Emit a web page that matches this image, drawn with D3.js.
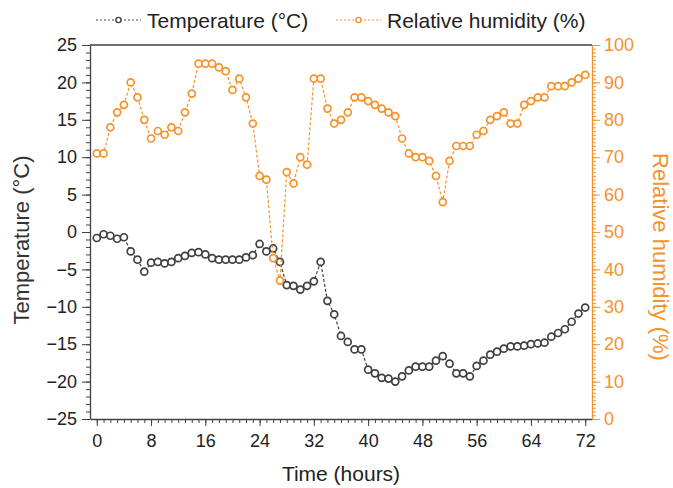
<!DOCTYPE html>
<html>
<head>
<meta charset="utf-8">
<script src="https://cdn.jsdelivr.net/npm/d3@7"></script>
<style>
  body { margin: 0; background: #fff; }
  text { font-family: "Liberation Sans", Arial, sans-serif; }
</style>
</head>
<body>
<div id="root"></div>
<script>
// hourly readings, 0..72 h
const hours = d3.range(0, 73);
const temperature = [
  -0.8, -0.3, -0.5, -0.9, -0.7, -2.6, -3.7, -5.3, -4.1, -4.0,
  -4.2, -4.0, -3.5, -3.2, -2.8, -2.7, -3.0, -3.5, -3.7, -3.7,
  -3.7, -3.7, -3.4, -3.1, -1.6, -2.6, -2.2, -4.0, -7.1, -7.2,
  -7.7, -7.2, -6.6, -4.0, -9.2, -11.0, -13.9, -14.7, -15.7, -15.7,
  -18.4, -18.9, -19.5, -19.6, -20.0, -19.3, -18.5, -18.0, -18.0, -18.0,
  -17.2, -16.6, -17.6, -18.9, -18.9, -19.3, -17.9, -17.2, -16.4, -16.0,
  -15.6, -15.3, -15.3, -15.2, -15.0, -14.9, -14.8, -14.0, -13.5, -13.0,
  -12.0, -10.9, -10.1
];
const humidity = [
  71, 71, 78, 82, 84, 90, 86, 80, 75, 77,
  76, 78, 77, 82, 87, 95, 95, 95, 94, 93,
  88, 91, 86, 79, 65, 64, 43, 37, 66, 63,
  70, 68, 91, 91, 83, 79, 80, 82, 86, 86,
  85, 84, 83, 82, 81, 75, 71, 70, 70, 69,
  65, 58, 69, 73, 73, 73, 76, 77, 80, 81,
  82, 79, 79, 84, 85, 86, 86, 89, 89, 89,
  90, 91, 92
];
const xTicks = d3.range(0, 73, 8);
const tempTicks = d3.range(-25, 26, 5);
const humTicks = d3.range(0, 101, 10);

const grey = '#404040';
const orange = '#f5922a';

const width = 673;
const height = 488;
const margin = { top: 45, bottom: 69, left: 90, right: 81 };
const chartWidth = width - margin.left - margin.right;
const chartHeight = height - margin.top - margin.bottom;

const svg = d3.select('#root')
  .append('svg')
  .attr('width', width)
  .attr('height', height);

const chart = svg.append('g')
  .attr('transform', `translate(${margin.left},${margin.top})`);

const xScale = d3.scaleLinear().domain([-1, 73]).range([0, chartWidth]);
const yTemp = d3.scaleLinear().domain([-25, 25]).range([chartHeight, 0]);
const yHum = d3.scaleLinear().domain([0, 100]).range([chartHeight, 0]);

// minor ticks first, then the major axes on top
chart.append('g')
  .attr('transform', `translate(0,${chartHeight})`)
  .call(d3.axisBottom(xScale).tickValues(d3.range(0, 73)).tickSize(4).tickFormat(''))
  .call(g => g.select('.domain').remove())
  .selectAll('line').attr('stroke', grey);

chart.append('g')
  .call(d3.axisLeft(yTemp).tickValues(d3.range(-25, 26)).tickSize(4).tickFormat(''))
  .call(g => g.select('.domain').remove())
  .selectAll('line').attr('stroke', grey);

chart.append('g')
  .attr('transform', `translate(${chartWidth},0)`)
  .call(d3.axisRight(yHum).tickValues(d3.range(0, 101)).tickSize(4).tickFormat(''))
  .call(g => g.select('.domain').remove())
  .selectAll('line').attr('stroke', orange);

// top border
chart.append('line')
  .attr('x1', 0).attr('x2', chartWidth)
  .attr('y1', 0).attr('y2', 0)
  .attr('stroke', grey)
  .attr('stroke-width', 1.3);

const xAxis = chart.append('g')
  .attr('transform', `translate(0,${chartHeight})`)
  .call(d3.axisBottom(xScale).tickValues(xTicks).tickSize(7).tickSizeOuter(0).tickPadding(8));
xAxis.select('.domain').attr('stroke', grey).attr('stroke-width', 1.3);
xAxis.selectAll('line').attr('stroke', grey);
xAxis.selectAll('text').attr('fill', '#222').style('font-size', '18px');

const yAxis = chart.append('g')
  .call(d3.axisLeft(yTemp).tickValues(tempTicks).tickSize(8).tickSizeOuter(0).tickPadding(5));
yAxis.select('.domain').attr('stroke', grey).attr('stroke-width', 1.3);
yAxis.selectAll('line').attr('stroke', grey);
yAxis.selectAll('text').attr('fill', '#222').style('font-size', '18px');

const yAxisR = chart.append('g')
  .attr('transform', `translate(${chartWidth},0)`)
  .call(d3.axisRight(yHum).tickValues(humTicks).tickSize(8).tickSizeOuter(0).tickPadding(4));
yAxisR.select('.domain').attr('stroke', orange).attr('stroke-width', 1.3);
yAxisR.selectAll('line').attr('stroke', orange);
yAxisR.selectAll('text').attr('fill', orange).style('font-size', '18px');

// axis titles
svg.append('text')
  .attr('x', margin.left + xScale(36))
  .attr('y', 481)
  .attr('text-anchor', 'middle')
  .attr('fill', '#222')
  .style('font-size', '21px')
  .text('Time (hours)');

svg.append('text')
  .attr('transform', `translate(29,${margin.top + chartHeight / 2 + 8}) rotate(-90)`)
  .attr('text-anchor', 'middle')
  .attr('fill', '#333')
  .style('font-size', '22px')
  .text('Temperature (°C)');

svg.append('text')
  .attr('transform', `translate(653,${margin.top + chartHeight / 2 + 25}) rotate(90)`)
  .attr('text-anchor', 'middle')
  .attr('fill', orange)
  .style('font-size', '22px')
  .text('Relative humidity (%)');

// series
const series = [
  { name: 'Temperature (°C)', values: temperature, y: yTemp, color: grey },
  { name: 'Relative humidity (%)', values: humidity, y: yHum, color: orange }
];

series.forEach(s => {
  const line = d3.line()
    .x((d, i) => xScale(hours[i]))
    .y(d => s.y(d));

  chart.append('path')
    .datum(s.values)
    .attr('d', line)
    .attr('fill', 'none')
    .attr('stroke', s.color)
    .attr('stroke-width', 1.2)
    .attr('stroke-dasharray', '3,2');

  chart.selectAll(null)
    .data(s.values)
    .enter()
    .append('circle')
    .attr('cx', (d, i) => xScale(hours[i]))
    .attr('cy', d => s.y(d))
    .attr('r', 3.5)
    .attr('fill', '#fff')
    .attr('stroke', s.color)
    .attr('stroke-width', 1.7);
});

// legend
const legendX = [96, 336];
series.forEach((s, i) => {
  const g = svg.append('g').attr('transform', `translate(${legendX[i]},20)`);
  g.append('line')
    .attr('x1', 0).attr('x2', 45)
    .attr('y1', 0).attr('y2', 0)
    .attr('stroke', s.color)
    .attr('stroke-width', 1.2)
    .attr('stroke-dasharray', '2,2');
  g.append('circle')
    .attr('cx', 22.5).attr('cy', 0)
    .attr('r', 2.6)
    .attr('fill', '#fff')
    .attr('stroke', s.color)
    .attr('stroke-width', 1.4);
  g.append('text')
    .attr('x', 51)
    .attr('y', 7.5)
    .attr('fill', '#222')
    .style('font-size', '21px')
    .text(s.name);
});
</script>
</body>
</html>
